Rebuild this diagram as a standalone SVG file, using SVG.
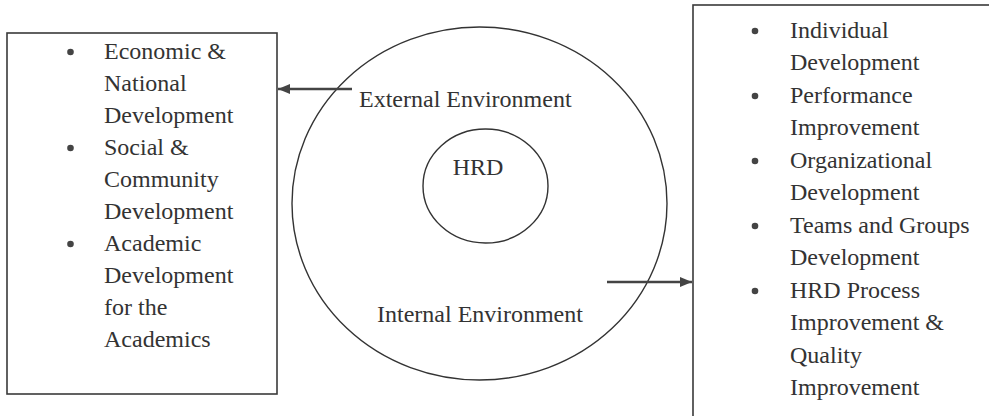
<svg xmlns="http://www.w3.org/2000/svg" width="989" height="416" viewBox="0 0 989 416">
<defs>
<style>
.box{fill:none;stroke:#3a3a3a;stroke-width:1.6}
.ring{fill:none;stroke:#333;stroke-width:1.4}
.t{font-family:"Liberation Serif","Times New Roman",serif;font-size:24px;fill:#333}
.b{fill:#444}
.conn{stroke:#444;stroke-width:2.6;fill:none}
</style>
<marker id="ah" viewBox="0 0 12 10" refX="12" refY="5" markerWidth="12" markerHeight="10" markerUnits="userSpaceOnUse" orient="auto">
<path d="M0,0 L12,5 L0,10 Z" fill="#444"/>
</marker>
</defs>
<rect width="989" height="416" fill="#fff"/>

<g id="left-box">
<rect class="box" x="7" y="33" width="270" height="361"/>
<circle class="b" cx="70.5" cy="52" r="3.3"/>
<circle class="b" cx="70.5" cy="148" r="3.3"/>
<circle class="b" cx="70.5" cy="244" r="3.3"/>
<text class="t" x="104" y="59">Economic &amp;</text>
<text class="t" x="104" y="91">National</text>
<text class="t" x="104" y="123">Development</text>
<text class="t" x="104" y="155">Social &amp;</text>
<text class="t" x="104" y="187">Community</text>
<text class="t" x="104" y="219">Development</text>
<text class="t" x="104" y="251">Academic</text>
<text class="t" x="104" y="283">Development</text>
<text class="t" x="104" y="315">for the</text>
<text class="t" x="104" y="347">Academics</text>
</g>

<g id="environment">
<ellipse class="ring" cx="479.5" cy="203.5" rx="187.5" ry="176.5"/>
<text class="t" x="359" y="107">External Environment</text>
<text class="t" x="377" y="322">Internal Environment</text>
</g>

<g id="hrd">
<ellipse class="ring" cx="485.5" cy="186" rx="62.5" ry="57"/>
<text class="t" x="478" y="175" text-anchor="middle">HRD</text>
</g>

<g id="right-box">
<rect class="box" x="693" y="5" width="320" height="430"/>
<circle class="b" cx="755" cy="31" r="3.3"/>
<circle class="b" cx="755" cy="96" r="3.3"/>
<circle class="b" cx="755" cy="161" r="3.3"/>
<circle class="b" cx="755" cy="226" r="3.3"/>
<circle class="b" cx="755" cy="291" r="3.3"/>
<text class="t" x="790" y="37.5">Individual</text>
<text class="t" x="790" y="70">Development</text>
<text class="t" x="790" y="102.5">Performance</text>
<text class="t" x="790" y="135">Improvement</text>
<text class="t" x="790" y="167.5">Organizational</text>
<text class="t" x="790" y="200">Development</text>
<text class="t" x="790" y="232.5">Teams and Groups</text>
<text class="t" x="790" y="265">Development</text>
<text class="t" x="790" y="297.5">HRD Process</text>
<text class="t" x="790" y="330">Improvement &amp;</text>
<text class="t" x="790" y="362.5">Quality</text>
<text class="t" x="790" y="395">Improvement</text>
</g>

<g id="connectors">
<line class="conn" x1="352" y1="89" x2="278" y2="89" marker-end="url(#ah)"/>
<line class="conn" x1="607" y1="282" x2="692" y2="282" marker-end="url(#ah)"/>
</g>
</svg>
